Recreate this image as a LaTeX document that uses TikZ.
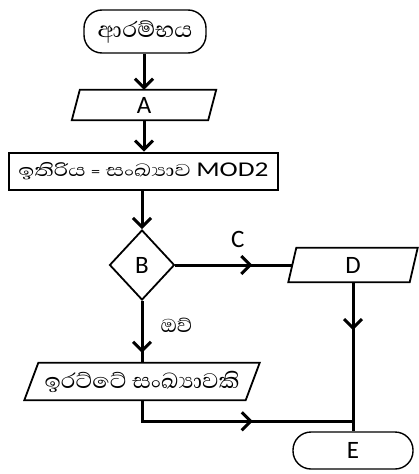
\documentclass[tikz,border=0pt]{standalone}
\usepackage{graphicx}
\usepackage{fontspec}
\setmainfont{Carlito}
\newfontfamily\sinhalafont[Script=Sinhala]{Abhaya Libre}
\usetikzlibrary{shapes.geometric,arrows.meta,decorations.markings}
\newcommand\sinwide[3]{\resizebox{#1}{\height}{\fontsize{#2}{#2}\selectfont\sinhalafont #3}}
\begin{document}
\begin{tikzpicture}[x=1pt,y=-1pt,
  big/.style={font=\fontsize{25}{30}\selectfont},
  term/.style={draw, line width=1.4pt, rounded corners=18pt, inner sep=0pt},
  procbox/.style={draw, line width=2.6pt, inner sep=0pt},
  parabody/.style={inner sep=0pt},
  paraline/.style={line width=1.8pt, line join=miter},
  decision/.style={diamond, draw, line width=1.8pt, inner sep=0pt, aspect=0.93},
  conn/.style={line width=3pt},
  lbl/.style={inner sep=0pt},
  endtip/.style={-{Straight Barb[length=9pt,width=18pt]}},
  midtip/.style={postaction={decorate}, decoration={markings,
      mark=at position #1 with {\arrow{Straight Barb[length=9pt,width=18pt]}}}}
]
\useasboundingbox (0,0) rectangle (419,474);

% nodes
\node[term, minimum width=122pt, minimum height=43pt] (start) at (145,31.5) {\sinwide{95pt}{28}{ආරම්භය}};
\node[parabody, big, minimum width=136pt, minimum height=30pt] (A) at (144,105) {A};
\node[procbox, minimum width=269pt, minimum height=37pt] (proc) at (143.5,171.5)
  {\resizebox{250pt}{\height}{\fontsize{22}{26}\selectfont\sinhalafont ඉතිරිය {\rmfamily\fontsize{14}{18}\selectfont =} සංඛ්‍යාව {\rmfamily\fontsize{21}{26}\selectfont MOD2}}};
\node[decision, big, minimum width=65pt, minimum height=70pt] (B) at (142,265) {B};
\node[parabody, big, minimum width=121pt, minimum height=34pt] (D) at (353,265) {D};
\node[parabody, minimum width=221pt, minimum height=37pt] (P) at (142,381.5) {\sinwide{195pt}{27}{ඉරට්ටේ සංඛ්‍යාවකි}};
\node[term, big, minimum width=120pt, minimum height=37pt] (E) at (353,450.5) {E};

% parallelogram outlines
\draw[paraline] ([xshift=4pt]A.north west) -- ([xshift=4pt]A.north east) -- ([xshift=-4pt]A.south east) -- ([xshift=-4pt]A.south west) -- cycle;
\draw[paraline] ([xshift=4pt]D.north west) -- ([xshift=4pt]D.north east) -- ([xshift=-4pt]D.south east) -- ([xshift=-4pt]D.south west) -- cycle;
\draw[paraline] ([xshift=7pt]P.north west) -- ([xshift=7pt]P.north east) -- ([xshift=-7pt]P.south east) -- ([xshift=-7pt]P.south west) -- cycle;

% connectors
\coordinate (j) at ([yshift=10pt]E.north);
\draw[conn, endtip] (start.south -| A.north) -- (A.north);
\draw[conn, endtip] (A.south) -- (A.south |- proc.north);
\draw[conn, endtip] (proc.south -| B.north) -- (B.north);
\draw[conn, midtip=77pt] (B.east) -- (B.east -| D.west) node[big, lbl, pos=0.5, above=16pt, xshift=4pt] (c) {C};
\draw[conn, midtip=52pt] (B.south) -- (B.south |- P.north) node[lbl, pos=0.4, right=17pt] (yes) {\sinwide{32pt}{24}{ඔව්}};
\draw[conn, midtip=48pt] (D.south) -- (E.north);
\draw[conn, midtip=132pt] (P.south) |- (j);
\end{tikzpicture}
\end{document}
